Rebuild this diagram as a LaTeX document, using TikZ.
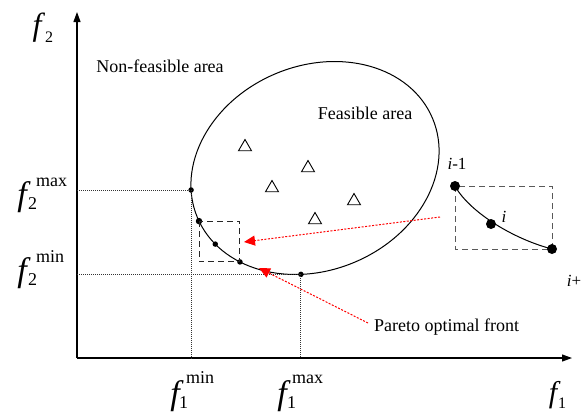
\documentclass[tikz,border=0pt]{standalone}
\usepackage{fontspec}
\setmainfont{Liberation Serif}
\newfontfamily\tms{Liberation Serif}
\usetikzlibrary{arrows.meta,shapes.geometric}
\begin{document}
\begin{tikzpicture}[x=1pt,y=1pt,
  axisline/.style={line width=1.1pt,-{Triangle[length=10pt,width=7pt]}},
  guide/.style={dash pattern=on 1pt off 1pt, line width=0.9pt, black!80},
  dotsmall/.style={circle,fill=black,inner sep=0pt,minimum size=5.5pt},
  dotbig/.style={circle,fill=black,inner sep=0pt,minimum size=10pt},
  tri/.style={regular polygon,regular polygon sides=3,draw,line width=0.9pt,inner sep=0pt,minimum size=15pt},
  txt/.style={font=\tms\fontsize{18}{20}\selectfont,inner sep=0pt},
  fbig/.style={font=\tms\fontsize{34}{34}\selectfont\itshape,inner sep=0pt,anchor=base},
  fscr/.style={font=\tms\fontsize{18}{18}\selectfont,inner sep=0pt,anchor=base west},
  ilab/.style={font=\tms\fontsize{17}{17}\selectfont,inner sep=0pt},
  redarrow/.style={red,dash pattern=on 2pt off 1.5pt,line width=1pt,-{Triangle[length=11pt,width=10pt]}},
  boxdash/.style={dash pattern=on 6pt off 4pt,line width=1pt},
]
\useasboundingbox (0,0) rectangle (584,-413);

% axes
\coordinate (O) at (77,-358);
\coordinate (xend) at (572,-358);
\coordinate (yend) at (77,-12);
\draw[axisline] (O) -- (xend);
\draw[axisline] (O) -- (yend);

% feasible region
\begin{scope}[shift={(315,-168)},rotate=23]
  \draw[line width=1pt] (0,0) ellipse [x radius=127.6, y radius=102.2];
  \node[dotsmall] (p1) at (164:127.6 and 102.2) {};
  \node[dotsmall,minimum size=6.5pt] (p2) at (182:127.6 and 102.2) {};
  \node[dotsmall] (p3) at (197.7:127.6 and 102.2) {};
  \node[dotsmall] (p4) at (214:127.6 and 102.2) {};
  \node[dotsmall] (p5) at (244.7:127.6 and 102.2) {};
\end{scope}

% guide lines
\draw[guide] (O |- p1) -- (p1.center) -- (p1 |- O);
\draw[guide] (O |- p5) -- (p5.center) -- (p5 |- O);

% dashed box on front
\draw[boxdash,black!85] (p2.center) rectangle (p4.center);

% triangles
\node[tri] (t1) at (245,-147) {};
\node[tri] (t2) at (308,-168) {};
\node[tri] (t3) at (272,-188) {};
\node[tri] (t4) at (354,-201) {};
\node[tri] (t5) at (315,-220) {};

% texts
\node[txt] (nonfeas) at (160,-66) {Non-feasible area};
\node[txt] (feas) at (365,-113) {Feasible area};
\node[txt,anchor=west] (pareto) at (374,-327) {Pareto optimal front};

% inset
\coordinate (iap) at (455,-186);
\coordinate (icp) at (552,-249);
\draw[boxdash,black!65] (iap) rectangle (icp);
\draw[line width=1pt] (iap) .. controls (468,-210) and (510,-238) .. (icp);
\node[dotbig] (ia) at (iap) {};
\node[dotbig] (ib) at (491,-224) {};
\node[dotbig] (ic) at (icp) {};
\node[ilab] (la) at (457,-164) {\textit{i}-1};
\node[ilab] (lb) at (504,-217) {\textit{i}};
\node[ilab] (lc) at (574,-281) {\textit{i}+};

% red arrows
\coordinate (r1s) at (440,-217);
\coordinate (r1e) at (244,-242);
\draw[redarrow] (r1s) -- (r1e);
\coordinate (r2s) at (368,-323);
\coordinate (r2e) at (259,-268);
\draw[redarrow] (r2s) -- (r2e);

% axis labels
\node[fbig,font=\tms\fontsize{32}{32}\selectfont\itshape] (f2) at (37,-35) {f};
\node[fscr,font=\tms\fontsize{16}{16}\selectfont] (f2s) at (45,-42) {2};

\node[fbig] (f2mx) at (22,-205) {f};
\node[fscr] (f2mxu) at (36,-186) {max};
\node[fscr] (f2mxs) at (28,-209) {2};

\node[fbig] (f2mn) at (22,-281) {f};
\node[fscr] (f2mnu) at (36,-262) {min};
\node[fscr] (f2mns) at (28,-285) {2};

\node[fbig] (f1mn) at (175,-404) {f};
\node[fscr] (f1mnu) at (186,-383) {min};
\node[fscr] (f1mns) at (179,-408) {1};

\node[fbig] (f1mx) at (282,-404) {f};
\node[fscr] (f1mxu) at (292,-383) {max};
\node[fscr] (f1mxs) at (287,-408) {1};

\node[fbig,font=\tms\fontsize{30}{30}\selectfont\itshape] (f1) at (553,-402) {f};
\node[fscr,font=\tms\fontsize{16}{16}\selectfont] (f1s) at (558,-408) {1};
\end{tikzpicture}
\end{document}
